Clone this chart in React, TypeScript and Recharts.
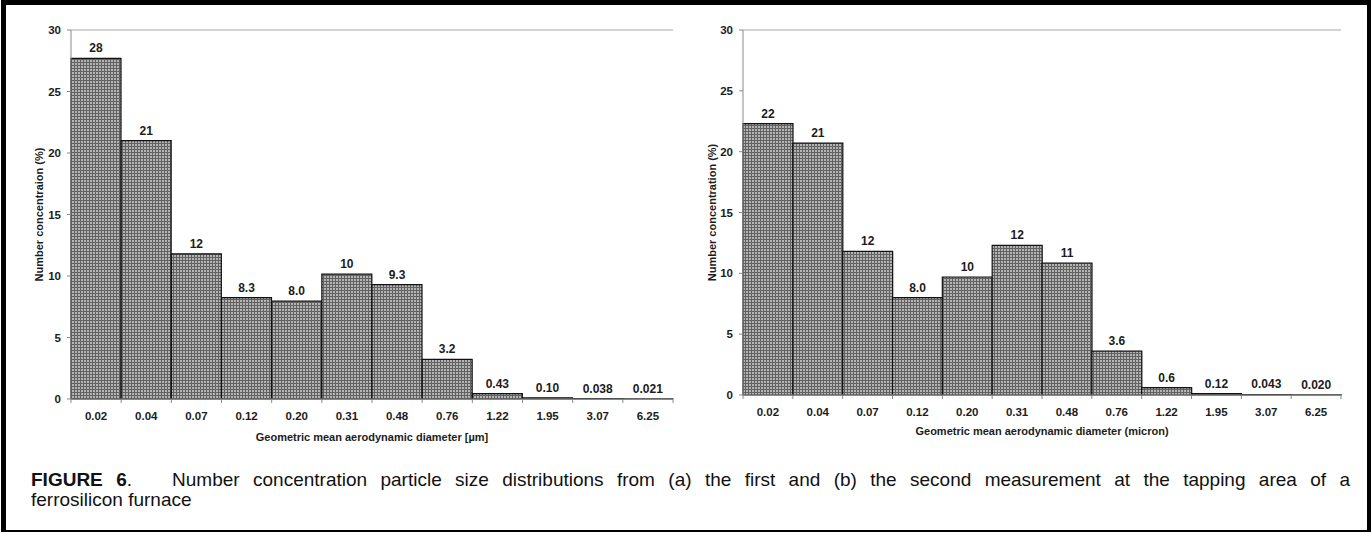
import React from 'react';
import { BarChart, Bar, XAxis, YAxis, LabelList, ReferenceLine } from 'recharts';

const categories = ['0.02', '0.04', '0.07', '0.12', '0.20', '0.31', '0.48', '0.76', '1.22', '1.95', '3.07', '6.25'];
const seriesA = [27.7, 21.0, 11.8, 8.25, 7.95, 10.15, 9.3, 3.22, 0.43, 0.10, 0.038, 0.021];
const labelsA = ['28', '21', '12', '8.3', '8.0', '10', '9.3', '3.2', '0.43', '0.10', '0.038', '0.021'];
const seriesB = [22.3, 20.7, 11.8, 8.0, 9.7, 12.3, 10.85, 3.6, 0.6, 0.12, 0.043, 0.020];
const labelsB = ['22', '21', '12', '8.0', '10', '12', '11', '3.6', '0.6', '0.12', '0.043', '0.020'];
const yTicks = [0, 5, 10, 15, 20, 25, 30];

const dataA = categories.map((c, i) => ({ cat: c, value: seriesA[i], label: labelsA[i] }));
const dataB = categories.map((c, i) => ({ cat: c, value: seriesB[i], label: labelsB[i] }));

const AXIS = '#8a8a8a';
const FRAME = '#a8a8a8';
const TEXT = '#1c1c1c';
const FONT = '"Liberation Sans", Arial, sans-serif';
const TICK_SIZE = 5;
const TICK_MARGIN = 8;

const EdgeTick = (props: any) => {
  const { x, y, payload, index, visibleTicksCount, width } = props;
  const half = payload && payload.offset ? payload.offset : width / visibleTicksCount / 2;
  const axisY = y - TICK_SIZE - TICK_MARGIN;
  return (
    <g>
      <line x1={x - half} x2={x - half} y1={axisY} y2={axisY + 4} stroke={AXIS} />
      {index === visibleTicksCount - 1 && (
        <line x1={x + half} x2={x + half} y1={axisY} y2={axisY + 4} stroke={AXIS} />
      )}
      <text x={x} y={y} dy="0.71em" textAnchor="middle" fill={TEXT} fontSize={11.5} fontWeight="bold" fontFamily={FONT}>
        {payload.value}
      </text>
    </g>
  );
};

type PanelProps = {
  data: any[];
  left: number;
  width: number;
  height: number;
  xHeight: number;
  margin: any;
  xTitle: string;
  yTitle: string;
  xTitleOffset: number;
  yTitleDx: number;
};

const Panel = ({ data, left, width, height, xHeight, margin, xTitle, yTitle, xTitleOffset, yTitleDx }: PanelProps) => (
  <div style={{ position: 'absolute', left, top: 0 }}>
    <BarChart width={width} height={height} data={data} margin={margin} barCategoryGap={0} barGap={0}>
      <ReferenceLine y={30} stroke={FRAME} strokeWidth={1} />
      <Bar dataKey="value" fill="url(#dotPattern)" stroke="#111" strokeWidth={1.2} isAnimationActive={false}>
        <LabelList dataKey="label" position="top" offset={6} fill={TEXT} fontSize={12} fontWeight="bold" fontFamily={FONT} />
      </Bar>
      <XAxis
        dataKey="cat"
        type="category"
        height={xHeight}
        tickLine={false}
        tickSize={TICK_SIZE}
        tickMargin={TICK_MARGIN}
        axisLine={{ stroke: AXIS }}
        tick={<EdgeTick />}
        interval={0}
        label={{
          content: (p: any) => {
            const vb = p.viewBox;
            return (
              <text x={vb.x + vb.width / 2} y={vb.y + xTitleOffset} textAnchor="middle" fill={TEXT} fontSize={11} fontWeight="bold" fontFamily={FONT}>
                {xTitle}
              </text>
            );
          },
        }}
      />
      <YAxis
        domain={[0, 30]}
        ticks={yTicks}
        interval={0}
        width={30}
        tickSize={4}
        tickMargin={6}
        axisLine={{ stroke: AXIS }}
        tickLine={{ stroke: AXIS }}
        tick={{ fill: TEXT, fontSize: 11.5, fontWeight: 'bold', fontFamily: FONT }}
        label={{
          content: (p: any) => {
            const vb = p.viewBox;
            const cx = vb.x + yTitleDx;
            const cy = vb.y + vb.height / 2;
            return (
              <text x={cx} y={cy} transform={`rotate(-90, ${cx}, ${cy})`} textAnchor="middle" fill={TEXT} fontSize={11} fontWeight="bold" fontFamily={FONT}>
                {yTitle}
              </text>
            );
          },
        }}
      />
      <YAxis yAxisId="edge" orientation="right" width={0} domain={[0, 30]} tick={false} tickLine={false} axisLine={{ stroke: FRAME }} />
    </BarChart>
  </div>
);

export default function App() {
  return (
    <div style={{ position: 'absolute', left: 0, top: 0, width: 1372, height: 533, background: '#fff', fontFamily: FONT }}>
      <svg width={0} height={0} style={{ position: 'absolute' }}>
        <defs>
          <pattern id="dotPattern" width={3} height={3} patternUnits="userSpaceOnUse">
            <rect width={3} height={3} fill="#626262" />
            <rect x={0} y={0} width={2} height={2} fill="#b4b4b4" />
          </pattern>
        </defs>
      </svg>
      <Panel
        data={dataA}
        left={0}
        width={690}
        height={460}
        xHeight={61}
        margin={{ top: 30, right: 17, left: 41, bottom: 0 }}
        xTitle="Geometric mean aerodynamic diameter [µm]"
        yTitle="Number concentraion (%)"
        xTitleOffset={42}
        yTitleDx={2}
      />
      <Panel
        data={dataB}
        left={680}
        width={680}
        height={460}
        xHeight={65}
        margin={{ top: 30, right: 19, left: 33, bottom: 0 }}
        xTitle="Geometric mean aerodynamic diameter (micron)"
        yTitle="Number concentration (%)"
        xTitleOffset={40}
        yTitleDx={3}
      />
      <div
        style={{
          position: 'absolute',
          left: 31,
          top: 470,
          width: 1319,
          fontSize: 19,
          lineHeight: '20px',
          color: '#111',
          fontFamily: FONT,
        }}
      >
        <div style={{ textAlign: 'justify', textAlignLast: 'justify' }}>
          <b>FIGURE 6</b>.{'\u00a0\u00a0'} Number concentration particle size distributions from (a) the first and (b) the second measurement at the tapping area of a
        </div>
        <div>ferrosilicon furnace</div>
      </div>
      <div
        style={{
          position: 'absolute',
          left: 1,
          top: 0,
          width: 1370,
          height: 532,
          boxSizing: 'border-box',
          borderTop: '5px solid #000',
          borderLeft: '5px solid #000',
          borderRight: '4px solid #000',
          borderBottom: '2px solid #000',
          pointerEvents: 'none',
        }}
      />
    </div>
  );
}
